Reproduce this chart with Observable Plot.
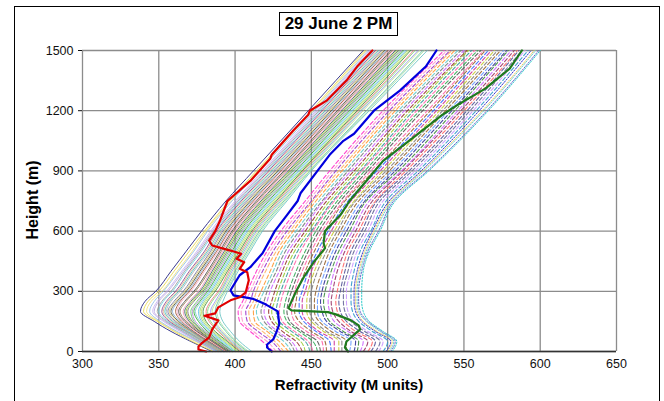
<!DOCTYPE html>
<html>
<head>
<meta charset="utf-8">
<script src="https://cdn.jsdelivr.net/npm/d3@7"></script>
<script src="https://cdn.jsdelivr.net/npm/@observablehq/plot@0.6"></script>
<style>
  html, body { margin: 0; padding: 0; background: #fff; }
  #wrap { position: relative; width: 664px; height: 401px; overflow: hidden; font-family: "Liberation Sans", Arial, sans-serif; }
  #frame { position: absolute; left: 14px; top: 6px; width: 644px; height: 420px; border: 1.5px solid #000; }
  #chart { position: absolute; left: 0; top: 0; }
  #title { position: absolute; left: 279px; top: 12px; width: 117px; height: 22px; border: 1px solid #000; background: #fff;
           font-weight: bold; font-size: 17px; line-height: 22px; text-align: center; color: #000; }
  #xlabel { position: absolute; left: 149px; width: 400px; top: 376px; text-align: center; font-weight: bold; font-size: 15px; color: #000; }
  #ylabel { position: absolute; left: -67px; top: 191px; width: 200px; text-align: center; font-weight: bold; font-size: 16px; color: #000;
            transform: rotate(-90deg); }
</style>
</head>
<body>
<div id="wrap">
  <div id="frame"></div>
  <div id="chart"></div>
  <div id="title">29 June 2 PM</div>
  <div id="xlabel">Refractivity (M units)</div>
  <div id="ylabel">Height (m)</div>
</div>
<script>
// Heights (m) shared by the background profiles
const heights = [0, 50, 100, 150, 200, 250, 300, 400, 500, 600, 750, 900, 1200, 1500];

// Solid thin profiles (M units at each height)
const solidSeries = [
  [385,371,358,347,338,341,348,358,368,378,394,412,448,484],
  [386,372,360,349,340,343,350,360,370,380,396,414,450,485],
  [387,374,361,350,342,345,352,362,372,381,397,415,451,486],
  [387,375,362,351,344,347,353,363,373,382,398,416,452,487],
  [388,376,364,353,346,349,355,365,375,384,400,418,453,488],
  [388,376,365,354,347,350,356,366,376,385,401,419,454,489],
  [389,377,366,355,349,352,358,367,377,386,402,420,455,490],
  [389,378,367,356,350,353,359,368,378,387,403,421,456,491],
  [390,379,368,357,352,355,361,370,380,388,404,422,457,492],
  [390,379,368,358,353,356,362,371,381,389,405,423,458,493],
  [391,380,369,359,354,357,363,372,382,390,406,424,459,494],
  [391,380,370,360,355,358,364,373,383,391,407,425,460,495],
  [392,381,371,361,356,360,366,375,384,392,408,426,461,496],
  [392,381,371,362,357,361,367,376,385,393,409,427,462,497],
  [393,382,372,363,358,362,368,377,386,394,410,428,463,498],
  [393,382,372,364,359,363,369,378,387,395,411,429,464,499],
  [394,383,373,365,361,364,370,379,388,396,412,430,465,500],
  [394,384,374,366,362,365,371,380,389,397,413,431,466,501],
  [395,385,375,367,363,367,373,382,390,398,414,432,467,502],
  [395,385,376,368,364,368,374,383,391,399,415,433,468,503],
  [396,386,377,369,366,370,376,384,392,400,416,434,469,504],
  [396,386,377,370,367,371,377,385,393,401,417,435,470,505],
  [397,387,378,371,368,372,378,386,394,402,418,436,471,506],
  [397,388,379,372,369,373,379,387,395,403,419,437,472,507],
  [398,389,380,373,371,375,380,388,396,404,420,438,473,508],
  [398,389,381,374,372,376,381,389,397,405,421,439,474,509],
  [399,390,382,376,373,377,382,390,398,406,422,440,475,510],
  [399,391,383,377,374,378,383,391,399,407,423,441,476,511],
  [400,392,384,378,376,379,384,392,400,408,424,442,477,512],
  [401,393,385,379,377,380,385,393,401,409,425,443,478,513],
  [402,394,386,380,378,381,386,394,402,410,426,444,479,514],
  [403,395,387,381,379,382,387,395,403,411,427,444,480,515],
  [404,396,389,383,381,384,389,396,404,412,428,445,481,517],
  [405,397,390,384,382,385,390,397,405,413,429,446,482,518],
  [406,398,391,386,384,387,391,398,406,414,430,447,483,520],
  [407,399,392,387,385,388,392,399,407,415,431,448,484,521],
  [408,400,394,389,387,389,393,400,408,416,432,449,486,523],
  [409,401,395,390,388,390,394,401,409,417,433,449,487,524],
  [411,403,397,392,390,392,395,402,410,418,434,450,488,526]
];
const solidColors = [
  "#3b3b8f","#e8d84a","#f0e27a","#8fbbe8","#c7b3ef","#b9a3e3","#9a9a9a","#6bcfe0","#8a3d8a","#e3b487",
  "#40bcbc","#b0b0b0","#6d6d9c","#d6c46a","#4d4d26","#7fa7d6","#a0522d","#f3a7c8","#454545","#9c7b4f",
  "#f293bb","#2f5f5f","#93c224","#6b6b6b","#63c763","#b388d9","#2aa82a","#80d0d0","#5cbbee","#9ad96a",
  "#bde05a","#3d8a3d","#ef7373","#7dd67d","#9494f0","#c3e88a","#5fbf9f","#a6e0a6","#66c2c2"
];

// Dashed thin profiles
const dashedSeries = [
  [425,418,410,403,402,405,408,414,421,430,446,462,497,537],
  [427,421,412,405,404,407,410,416,423,432,448,464,499,539],
  [430,424,415,408,407,410,412,418,425,434,450,466,501,541],
  [432,426,418,410,409,412,414,420,427,436,451,468,503,542],
  [435,429,421,413,412,414,417,423,429,438,453,470,505,544],
  [437,432,423,416,414,416,419,425,431,440,455,472,507,546],
  [439,435,426,419,417,419,421,427,433,442,457,474,509,548],
  [441,437,428,421,419,421,423,429,435,444,458,476,511,550],
  [444,440,431,424,422,424,426,431,437,446,460,478,513,552],
  [446,443,434,426,424,426,428,433,439,448,462,480,515,553],
  [449,446,437,429,427,428,430,435,441,450,464,482,517,555],
  [451,448,439,431,429,430,432,437,443,451,465,483,519,557],
  [454,451,442,434,432,433,435,440,446,453,467,485,521,559],
  [456,454,444,436,434,435,437,442,448,455,469,487,523,561],
  [458,457,447,439,437,438,439,444,450,457,471,489,526,563],
  [460,459,450,442,439,440,441,446,452,459,472,491,528,564],
  [463,462,453,445,442,442,444,448,454,461,474,493,530,566],
  [465,465,455,447,444,444,446,450,456,463,476,495,532,568],
  [468,468,458,450,447,447,448,452,458,465,478,497,534,570],
  [470,470,460,452,449,449,450,454,460,467,479,499,536,572],
  [473,473,463,455,452,452,453,457,462,469,481,501,538,574],
  [475,476,466,457,454,454,455,459,464,471,483,503,540,576],
  [478,479,469,460,457,456,457,461,466,473,485,505,542,578],
  [480,481,471,462,459,458,459,463,468,475,486,507,544,579],
  [482,484,474,465,462,461,462,465,470,477,488,509,546,581],
  [484,487,476,468,464,463,464,467,472,479,490,510,548,583],
  [487,490,479,471,467,466,467,470,474,481,492,512,550,585],
  [489,492,482,473,469,468,469,472,476,483,493,514,552,586],
  [492,495,485,476,472,471,471,474,478,485,495,516,554,588],
  [494,497,487,478,474,473,473,476,480,487,497,518,556,590],
  [497,500,490,481,477,476,476,478,482,489,499,520,558,592]
];
const dashedColors = [
  "#ff33cc","#ff99cc","#9933cc","#ffb366","#ff9933","#66cccc","#7a7a7a","#cc66ff","#993333","#99cc33",
  "#339999","#ff66aa","#33aa55","#555555","#ff66aa","#996633","#3366ff","#cc3399","#c9c933","#808080",
  "#996633","#6699ff","#333399","#3d8a3d","#cc66ff","#993366","#ff6666","#555599","#666699","#cc99ff",
  "#3399cc"
];

// Dotted thin profiles (outermost)
const dottedSeries = [
  [499,502,492,483,479,478,478,480,484,490,501,522,560,594],
  [500,503,493,484,480,479,479,481,485,491,502,523,562,596],
  [501,504,495,486,481,480,480,482,486,492,503,524,563,597],
  [502,505,496,487,482,481,481,483,487,494,504,526,565,599],
  [503,506,497,488,484,483,483,484,488,495,505,527,566,600]
];
const dottedColors = ["#3333cc","#f0c860","#66cccc","#6666cc","#33cccc"];

// Highlighted profiles
const redHeights = [0,10,25,40,70,110,155,178,190,220,255,270,295,355,395,412,445,462,487,503,528,553,600,650,750,850,960,980,1100,1180,1200,1250,1350,1420,1500];
const redValues  = [381,376,376,378,383,385,389,380,387,389,397,403,407,409,408,403,406,401,404,397,385,383,387,390,395,410,423,424,438,448,449,460,473,480,490];
const blueHeights = [0,20,35,60,95,135,200,235,262,280,305,380,420,490,600,680,750,790,900,980,1050,1085,1200,1300,1420,1500];
const blueValues  = [424,421,421,425,427,429,428,420,412,399,397,403,410,418,426,434,441,443,454,462,471,478,491,508,525,532];
const greenHeights = [0,20,50,70,90,110,130,155,185,196,205,216,300,370,450,515,540,600,680,750,850,950,1050,1180,1230,1310,1410,1500];
const greenValues  = [474,472,473,476,479,482,481,476,466,461,437,435,440,445,452,459,458,459,469,475,486,497,514,536,546,564,580,588];

// Axis ticks
const xTicks = [300,350,400,450,500,550,600,650];
const yTicks = [0,300,600,900,1200,1500];

const toRows = vals => vals.map((x, j) => ({x, y: heights[j]}));
const pairRows = (hs, xs) => hs.map((y, j) => ({x: xs[j], y}));

const marks = [
  Plot.gridX(xTicks, {stroke: "#8c8c8c", strokeOpacity: 1, strokeWidth: 1.3}),
  Plot.gridY(yTicks, {stroke: "#8c8c8c", strokeOpacity: 1, strokeWidth: 1.3}),
];
dottedSeries.forEach((s, i) => marks.push(Plot.line(toRows(s), {x: "x", y: "y", stroke: dottedColors[i], strokeWidth: 1, strokeDasharray: "1.5,1.5", curve: "monotone-y"})));
dashedSeries.forEach((s, i) => marks.push(Plot.line(toRows(s), {x: "x", y: "y", stroke: dashedColors[i], strokeWidth: 1.1, strokeOpacity: 0.9, strokeDasharray: "4,2.5", curve: "monotone-y"})));
solidSeries.forEach((s, i) => marks.push(Plot.line(toRows(s), {x: "x", y: "y", stroke: solidColors[i], strokeWidth: 1, strokeOpacity: i === 0 ? 1 : 0.85, curve: "monotone-y"})));
marks.push(Plot.line(pairRows(greenHeights, greenValues), {x: "x", y: "y", stroke: "#1e7a1e", strokeWidth: 2.2}));
marks.push(Plot.line(pairRows(blueHeights, blueValues), {x: "x", y: "y", stroke: "#0000dd", strokeWidth: 2.2}));
marks.push(Plot.line(pairRows(redHeights, redValues), {x: "x", y: "y", stroke: "#e00000", strokeWidth: 2.2}));
marks.push(Plot.ruleY([0], {stroke: "#333", strokeWidth: 1.5}));
marks.push(Plot.axisX(xTicks, {tickSize: 0, tickPadding: 8, fontSize: 12.5, label: null, tickFormat: d => String(d)}));
marks.push(Plot.axisY(yTicks, {tickSize: 4, tickPadding: 5, fontSize: 12.5, label: null, tickFormat: d => String(d)}));

const chart = Plot.plot({
  width: 664,
  height: 401,
  marginLeft: 82,
  marginRight: 48,
  marginTop: 50,
  marginBottom: 50,
  style: {fontFamily: "'Liberation Sans', Arial, sans-serif", color: "#111", background: "transparent"},
  x: {domain: [300, 650]},
  y: {domain: [0, 1500]},
  marks
});
document.getElementById("chart").appendChild(chart);
</script>
</body>
</html>
